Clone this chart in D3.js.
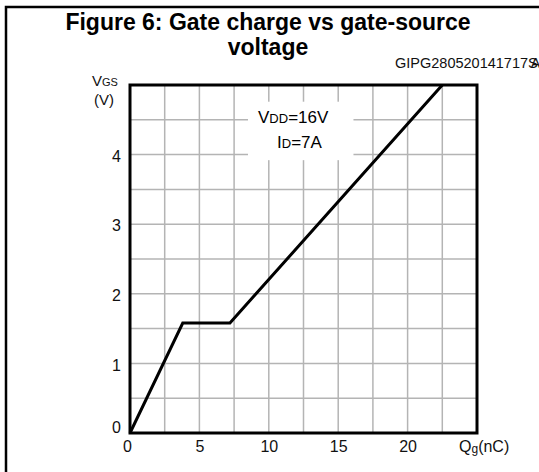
<!DOCTYPE html>
<html>
<head>
<meta charset="utf-8">
<script src="https://cdn.jsdelivr.net/npm/d3@7"></script>
<style>
  body { margin: 0; background: #fff; }
  svg { display: block; font-family: Arial, "Liberation Sans", sans-serif; }
</style>
</head>
<body>
<svg id="chart" width="539" height="472"></svg>
<script>
// Gate charge vs gate-source voltage
const qgValues = [0, 3.8, 7.2, 22.5];      // nC
const vgsValues = [0, 1.58, 1.58, 5];      // V
const xTicks = [0, 5, 10, 15, 20];
const yTicks = [0, 1, 2, 3, 4];
const xGrid = [2.5, 5, 7.5, 10, 12.5, 15, 17.5, 20, 22.5];
const yGrid = [0.5, 1, 1.5, 2, 2.5, 3, 3.5, 4, 4.5];
const titleLines = ["Figure 6: Gate charge vs gate-source", "voltage"];
const figId = "GIPG280520141717S";

const svg = d3.select("#chart");
const margin = { left: 130, top: 85, right: 477, bottom: 433 };

const x = d3.scaleLinear().domain([0, 25]).range([margin.left, margin.right]);
const y = d3.scaleLinear().domain([0, 5]).range([margin.bottom, margin.top]);

// outer frame (only left + top visible)
svg.append("path")
  .attr("d", "M6,472 L6,7 L539,7")
  .attr("fill", "none")
  .attr("stroke", "#000")
  .attr("stroke-width", 2.5);

// title
svg.append("g")
  .selectAll("text")
  .data(titleLines)
  .join("text")
  .attr("x", 268)
  .attr("y", (d, i) => 30 + i * 25)
  .attr("text-anchor", "middle")
  .attr("font-size", "23px")
  .attr("font-weight", "bold")
  .text((d) => d);

// figure id
const idText = svg.append("text")
  .attr("x", 395)
  .attr("y", 68)
  .attr("font-size", "14.5px")
  .attr("fill", "#111")
  .text(figId);
idText.append("tspan").attr("dx", -7).text("A");

// grid
const grid = svg.append("g").attr("stroke", "#b4b4b4").attr("stroke-width", 1.5);
grid.selectAll(".gx")
  .data(xGrid)
  .join("line")
  .attr("x1", (d) => x(d)).attr("x2", (d) => x(d))
  .attr("y1", y(0)).attr("y2", y(5));
grid.selectAll(".gy")
  .data(yGrid)
  .join("line")
  .attr("x1", x(0)).attr("x2", x(25))
  .attr("y1", (d) => y(d)).attr("y2", (d) => y(d));

// white box behind the condition text
svg.append("rect")
  .attr("x", x(8.5))
  .attr("y", y(4.76))
  .attr("width", x(16.1) - x(8.5))
  .attr("height", y(3.92) - y(4.76))
  .attr("fill", "#fff");

const cond1 = svg.append("text").attr("x", 258).attr("y", 123).attr("font-size", "17px");
cond1.append("tspan").text("V");
cond1.append("tspan").attr("font-size", "13px").text("DD");
cond1.append("tspan").text("=16V");
const cond2 = svg.append("text").attr("x", 277).attr("y", 148).attr("font-size", "17px");
cond2.append("tspan").text("I");
cond2.append("tspan").attr("font-size", "13px").text("D");
cond2.append("tspan").text("=7A");

// curve
const line = d3.line()
  .x((d, i) => x(qgValues[i]))
  .y((d) => y(d));
svg.append("path")
  .datum(vgsValues)
  .attr("fill", "none")
  .attr("stroke", "#000")
  .attr("stroke-width", 3)
  .attr("stroke-linejoin", "miter")
  .attr("d", line);

// plot frame
svg.append("rect")
  .attr("x", x(0))
  .attr("y", y(5))
  .attr("width", x(25) - x(0))
  .attr("height", y(0) - y(5))
  .attr("fill", "none")
  .attr("stroke", "#000")
  .attr("stroke-width", 3);

// axes (labels only, the frame acts as axis line)
const xAxis = svg.append("g")
  .attr("transform", `translate(0,${y(0)})`)
  .call(d3.axisBottom(x).tickValues(xTicks).tickSize(0).tickPadding(8));
xAxis.select(".domain").remove();
xAxis.selectAll("text")
  .attr("font-size", "16px")
  .attr("font-family", "Arial, 'Liberation Sans', sans-serif")
  .attr("fill", "#111")
  .attr("dx", (d) => (d === 0 ? -3 : 0));

const yAxis = svg.append("g")
  .attr("transform", `translate(${x(0)},0)`)
  .call(d3.axisLeft(y).tickValues(yTicks).tickFormat(d3.format("d")).tickSize(0).tickPadding(9));
yAxis.select(".domain").remove();
yAxis.selectAll("text")
  .attr("font-size", "16px")
  .attr("font-family", "Arial, 'Liberation Sans', sans-serif")
  .attr("fill", "#111")
  .attr("dy", (d) => (d === 0 ? "-0.05em" : "0.42em"));

// axis titles
const yl = svg.append("text").attr("x", 92).attr("y", 86).attr("font-size", "15px").attr("fill", "#111");
yl.append("tspan").text("V");
yl.append("tspan").attr("font-size", "11px").text("GS");
svg.append("text").attr("x", 94).attr("y", 105).attr("font-size", "15px").attr("fill", "#111").text("(V)");

const xl = svg.append("text").attr("x", 459).attr("y", 452).attr("font-size", "16px").attr("fill", "#111");
xl.append("tspan").text("Q");
xl.append("tspan").attr("font-size", "12px").attr("dy", 1).text("g");
xl.append("tspan").attr("dy", -1).text("(nC)");
</script>
</body>
</html>
